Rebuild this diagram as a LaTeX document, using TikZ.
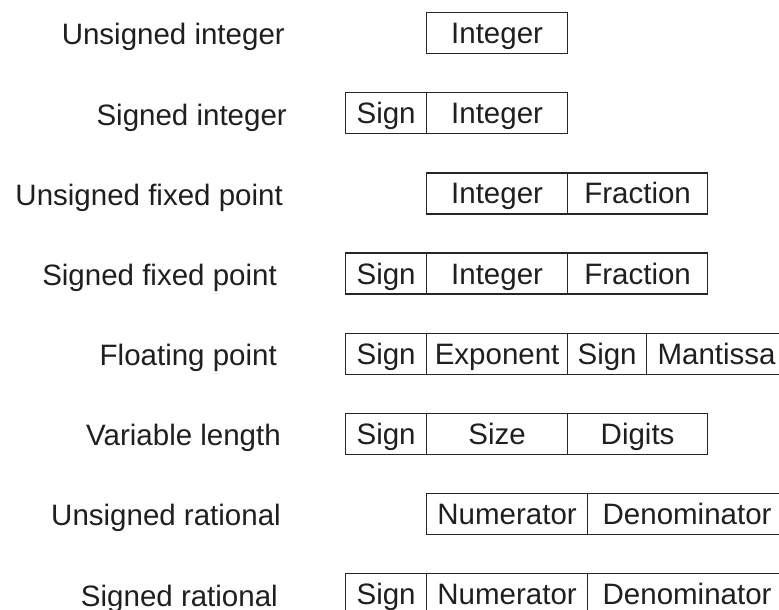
\documentclass[tikz,border=0pt]{standalone}
\usepackage{fontspec}
\setmainfont{Liberation Sans}
\begin{document}
\begin{tikzpicture}[x=1pt,y=-1pt,
  every node/.style={font=\fontsize{29.5}{35}\selectfont, text=black!88, inner sep=0pt,
    text height=21pt, text depth=0pt},
  field/.style={draw=black!85, line width=1.2pt, rectangle, anchor=north west,
    minimum height=41pt},
  lbl/.style={anchor=east}]
\useasboundingbox (0,0) rectangle (779,610);
\clip (0,0) rectangle (779,610);

% Row labels
\node[lbl] (l1) at (285,34.5) {Unsigned integer};
\node[lbl] (l2) at (287,114.6) {Signed integer};
\node[lbl] (l3) at (283,194.8) {Unsigned fixed point};
\node[lbl] (l4) at (277,274.9) {Signed fixed point};
\node[lbl] (l5) at (277,355.1) {Floating point};
\node[lbl] (l6) at (281,435.2) {Variable length};
\node[lbl] (l7) at (281,515.3) {Unsigned rational};
\node[lbl] (l8) at (278,595.5) {Signed rational};

% Unsigned integer
\node[field, minimum width=141pt] (a1) at (426,12) {Integer};
% Signed integer
\node[field, minimum width=81pt] (b1) at (345,92.1) {Sign};
\node[field, minimum width=141pt] (b2) at (426,92.1) {Integer};
% Unsigned fixed point
\node[field, minimum width=141pt] (c1) at (426,172.3) {Integer};
\node[field, minimum width=140pt] (c2) at (567,172.3) {Fraction};
% Signed fixed point
\node[field, minimum width=81pt] (d1) at (345,252.4) {Sign};
\node[field, minimum width=141pt] (d2) at (426,252.4) {Integer};
\node[field, minimum width=140pt] (d3) at (567,252.4) {Fraction};
% Floating point
\node[field, minimum width=81pt] (e1) at (345,332.6) {Sign};
\node[field, minimum width=141pt] (e2) at (426,332.6) {Exponent};
\node[field, minimum width=79pt] (e3) at (567,332.6) {Sign};
\node[field, minimum width=140pt] (e4) at (646,332.6) {Mantissa};
% Variable length
\node[field, minimum width=81pt] (f1) at (345,412.7) {Sign};
\node[field, minimum width=141pt] (f2) at (426,412.7) {Size};
\node[field, minimum width=140pt] (f3) at (567,412.7) {Digits};
% Unsigned rational
\node[field, minimum width=161pt] (g1) at (426,492.8) {Numerator};
\node[field, minimum width=199pt] (g2) at (587,492.8) {Denominator};
% Signed rational
\node[field, minimum width=81pt] (h1) at (345,573) {Sign};
\node[field, minimum width=161pt] (h2) at (426,573) {Numerator};
\node[field, minimum width=199pt] (h3) at (587,573) {Denominator};
\end{tikzpicture}
\end{document}
